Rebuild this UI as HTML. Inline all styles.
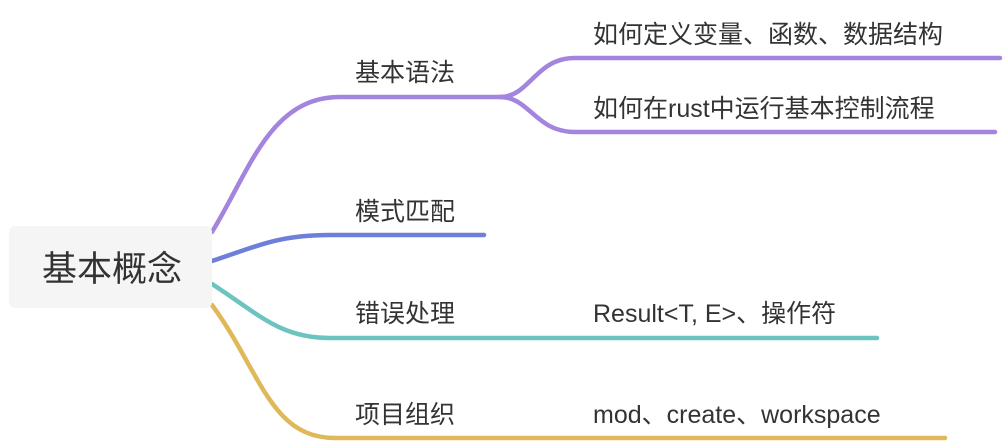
<!DOCTYPE html>
<html><head><meta charset="utf-8"><style>
html,body{margin:0;padding:0;background:#fff;}
svg{display:block}
text{font-family:"Liberation Sans","Noto Sans CJK SC",sans-serif;fill:#333;}
</style></head><body>
<svg width="1006" height="444" viewBox="0 0 1006 444" xmlns="http://www.w3.org/2000/svg">
<g fill="none" stroke-width="4.5" stroke-linecap="round">
<path d="M212 232 C 250 170, 270 97, 340 97 L 500 97" stroke="#a384de"/>
<path d="M500 97 C 530 97, 535 58, 575 58 L 1000 58" stroke="#a384de"/>
<path d="M500 97 C 530 97, 535 132, 575 132 L 995 132" stroke="#a384de"/>
<path d="M212 261 C 260 245, 280 235, 330 235 L 484 235" stroke="#6d7fd8"/>
<path d="M212 284 C 260 315, 280 338, 330 338 L 877 338" stroke="#6cc4c0"/>
<path d="M212 305 C 260 370, 270 438, 335 438 L 945 438" stroke="#dfb85a"/>
</g>
<rect x="9" y="226" width="203" height="82" rx="6" fill="#f5f5f5"/>
<text x="112" y="281" font-size="35" text-anchor="middle">基本概念</text>
<g font-size="25">
<text x="355" y="81">基本语法</text>
<text x="355" y="220">模式匹配</text>
<text x="355" y="322">错误处理</text>
<text x="355" y="423">项目组织</text>
<text x="593" y="43">如何定义变量、函数、数据结构</text>
<text x="593" y="117">如何在rust中运行基本控制流程</text>
<text x="593" y="322">Result&lt;T, E&gt;、操作符</text>
<text x="593" y="423">mod、create、workspace</text>
</g>
</svg>
</body></html>
